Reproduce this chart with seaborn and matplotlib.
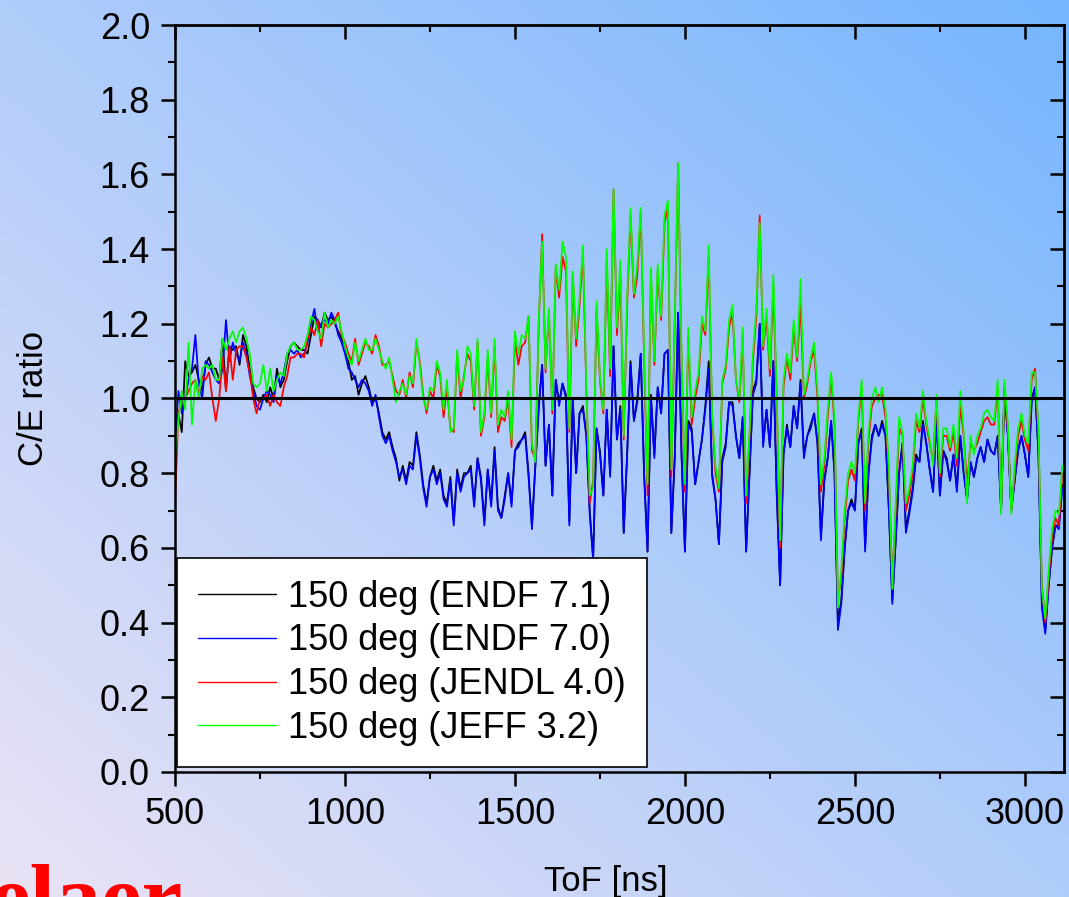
import numpy as np
import pandas as pd
import matplotlib
matplotlib.use("Agg")
import matplotlib.pyplot as plt
import seaborn as sns

# ToF grid (ns), one point every 10 ns
tof = np.arange(500, 3111, 10)

endf71 = [
    0.85, 0.96, 0.91, 1.10, 1.06, 1.07, 1.09, 1.05, 1.02, 1.09,
    1.11, 1.08, 1.08, 1.05, 1.16, 1.02, 1.14, 1.13, 1.14, 1.09,
    1.17, 1.14, 1.08, 1.03, 1.00, 0.99, 1.01, 0.99, 1.03, 1.00,
    1.08, 1.03, 1.05, 1.10, 1.14, 1.15, 1.14, 1.13, 1.13, 1.12,
    1.17, 1.22, 1.21, 1.19, 1.23, 1.21, 1.22, 1.20, 1.18, 1.16,
    1.14, 1.10, 1.05, 1.06, 1.01, 1.04, 1.06, 1.03, 0.99, 1.00,
    0.96, 0.91, 0.89, 0.91, 0.87, 0.84, 0.78, 0.82, 0.78, 0.83,
    0.82, 0.91, 0.85, 0.77, 0.72, 0.79, 0.82, 0.78, 0.81, 0.74,
    0.72, 0.79, 0.67, 0.81, 0.76, 0.80, 0.80, 0.82, 0.72, 0.84,
    0.79, 0.67, 0.81, 0.72, 0.87, 0.71, 0.68, 0.74, 0.80, 0.72,
    0.86, 0.88, 0.89, 0.91, 0.80, 0.66, 0.82, 0.98, 1.09, 0.82,
    0.93, 0.74, 1.05, 0.99, 1.04, 1.01, 0.67, 1.00, 0.80, 0.96,
    0.98, 0.90, 0.70, 0.57, 0.92, 0.86, 0.74, 0.97, 0.80, 1.14,
    0.89, 0.98, 0.64, 0.85, 1.10, 0.94, 1.00, 1.12, 0.80, 0.59,
    1.01, 0.85, 1.03, 0.96, 1.12, 1.13, 0.64, 0.84, 1.23, 0.85,
    0.59, 0.94, 0.92, 0.77, 0.83, 0.89, 0.98, 1.10, 0.80, 0.73,
    0.61, 0.84, 0.88, 0.99, 0.99, 0.90, 0.84, 0.95, 0.59, 0.80,
    1.02, 1.05, 1.20, 0.88, 0.97, 0.87, 1.10, 0.75, 0.50, 0.85,
    0.93, 0.87, 0.98, 0.92, 1.05, 0.85, 0.90, 0.93, 0.96, 0.88,
    0.63, 0.78, 0.84, 0.94, 0.80, 0.40, 0.46, 0.60, 0.70, 0.73,
    0.70, 0.88, 0.92, 0.60, 0.80, 0.90, 0.93, 0.90, 0.94, 0.90,
    0.70, 0.46, 0.62, 0.80, 0.88, 0.65, 0.70, 0.76, 0.85, 0.83,
    0.94, 0.88, 0.81, 0.75, 0.96, 0.74, 0.86, 0.84, 0.78, 0.85,
    0.76, 0.90, 0.80, 0.73, 0.83, 0.79, 0.84, 0.87, 0.83, 0.89,
    0.86, 0.85, 0.90, 0.70, 1.03, 0.90, 0.70, 0.78, 0.86, 0.90,
    0.85, 0.79, 1.00, 1.03, 0.85, 0.45, 0.38, 0.50, 0.60, 0.66,
    0.66, 0.77,
]

endf70 = [
    0.87, 1.02, 0.96, 1.00, 1.05, 1.08, 1.17, 1.04, 1.00, 1.10,
    1.09, 1.07, 1.05, 1.04, 1.08, 1.21, 1.10, 1.15, 1.12, 1.10,
    1.15, 1.12, 1.06, 1.02, 0.98, 0.97, 1.00, 1.02, 1.01, 0.99,
    1.06, 1.04, 1.07, 1.12, 1.13, 1.12, 1.13, 1.11, 1.12, 1.15,
    1.20, 1.24, 1.18, 1.20, 1.21, 1.20, 1.23, 1.21, 1.17, 1.15,
    1.12, 1.08, 1.07, 1.05, 1.03, 1.05, 1.04, 1.02, 0.98, 1.01,
    0.95, 0.90, 0.88, 0.90, 0.86, 0.83, 0.79, 0.81, 0.77, 0.82,
    0.81, 0.90, 0.84, 0.76, 0.71, 0.79, 0.81, 0.77, 0.80, 0.73,
    0.71, 0.78, 0.66, 0.80, 0.75, 0.79, 0.80, 0.81, 0.71, 0.84,
    0.78, 0.66, 0.81, 0.71, 0.86, 0.70, 0.68, 0.73, 0.80, 0.71,
    0.86, 0.87, 0.89, 0.90, 0.79, 0.65, 0.82, 0.97, 1.09, 0.82,
    0.93, 0.74, 1.05, 0.98, 1.04, 1.00, 0.66, 1.00, 0.80, 0.96,
    0.97, 0.90, 0.69, 0.57, 0.92, 0.85, 0.74, 0.97, 0.79, 1.14,
    0.89, 0.97, 0.64, 0.85, 1.09, 0.94, 0.99, 1.12, 0.79, 0.59,
    1.00, 0.84, 1.03, 0.96, 1.12, 1.13, 0.64, 0.84, 1.23, 0.85,
    0.59, 0.93, 0.91, 0.77, 0.83, 0.89, 0.97, 1.08, 0.79, 0.73,
    0.61, 0.83, 0.87, 0.99, 0.98, 0.90, 0.84, 0.95, 0.59, 0.80,
    1.01, 1.04, 1.20, 0.87, 0.97, 0.87, 1.10, 0.74, 0.50, 0.85,
    0.92, 0.87, 0.98, 0.92, 1.04, 0.84, 0.90, 0.92, 0.96, 0.88,
    0.62, 0.78, 0.84, 0.94, 0.80, 0.38, 0.45, 0.60, 0.70, 0.72,
    0.70, 0.88, 0.91, 0.59, 0.80, 0.89, 0.93, 0.90, 0.93, 0.90,
    0.70, 0.45, 0.62, 0.80, 0.88, 0.64, 0.69, 0.75, 0.84, 0.83,
    0.93, 0.88, 0.81, 0.75, 0.95, 0.74, 0.86, 0.83, 0.78, 0.85,
    0.75, 0.90, 0.80, 0.73, 0.83, 0.79, 0.84, 0.87, 0.83, 0.89,
    0.86, 0.85, 0.90, 0.70, 1.02, 0.90, 0.70, 0.78, 0.86, 0.90,
    0.85, 0.79, 0.99, 1.03, 0.85, 0.44, 0.37, 0.50, 0.60, 0.66,
    0.65, 0.76,
]

jendl40 = [
    0.72, 0.96, 1.00, 1.00, 1.02, 1.04, 1.05, 1.01, 1.06, 1.05,
    1.07, 1.00, 0.94, 1.00, 1.11, 1.02, 1.14, 1.05, 1.13, 1.14,
    1.14, 1.11, 1.07, 1.00, 0.96, 1.00, 1.00, 1.01, 0.98, 1.01,
    0.99, 0.98, 1.03, 1.06, 1.11, 1.11, 1.12, 1.12, 1.11, 1.16,
    1.19, 1.17, 1.21, 1.14, 1.20, 1.19, 1.20, 1.21, 1.23, 1.17,
    1.15, 1.12, 1.10, 1.16, 1.09, 1.12, 1.15, 1.14, 1.12, 1.17,
    1.14, 1.09, 1.09, 1.10, 1.06, 1.02, 1.01, 1.05, 1.00, 1.07,
    1.03, 1.15, 1.10, 1.01, 0.96, 1.02, 1.00, 1.09, 1.06, 0.95,
    1.03, 0.92, 0.91, 1.12, 1.00, 1.06, 1.12, 1.10, 0.97, 1.15,
    0.90, 0.95, 1.11, 0.95, 1.14, 0.91, 0.95, 0.94, 1.00, 0.87,
    1.16, 1.09, 1.14, 1.15, 1.22, 0.86, 0.84, 1.20, 1.44, 1.07,
    1.23, 0.96, 1.35, 1.27, 1.38, 1.34, 0.91, 1.33, 1.14, 1.25,
    1.39, 1.02, 0.72, 0.78, 1.24, 1.05, 0.96, 1.37, 1.06, 1.56,
    1.17, 1.33, 0.89, 1.25, 1.49, 1.27, 1.33, 1.50, 1.10, 0.74,
    1.33, 1.09, 1.34, 1.21, 1.47, 1.51, 0.79, 1.20, 1.63, 1.10,
    0.75, 1.17, 0.93, 1.00, 1.05, 1.20, 1.17, 1.38, 0.95, 0.80,
    0.75, 1.04, 1.08, 1.19, 1.23, 1.05, 0.99, 1.17, 0.72, 0.90,
    1.10, 1.22, 1.49, 1.13, 1.22, 1.06, 1.30, 1.00, 0.60, 1.03,
    1.11, 1.05, 1.19, 1.10, 1.25, 1.00, 1.04, 1.10, 1.13, 1.00,
    0.75, 0.82, 0.95, 1.06, 0.93, 0.46, 0.52, 0.68, 0.78, 0.81,
    0.78, 0.94, 1.03, 0.70, 0.89, 0.98, 1.00, 1.01, 1.01, 0.95,
    0.80, 0.51, 0.70, 0.92, 0.90, 0.70, 0.74, 0.80, 0.94, 0.91,
    1.00, 0.93, 0.88, 0.83, 1.00, 0.79, 0.90, 0.90, 0.86, 0.91,
    0.82, 0.98, 0.90, 0.77, 0.88, 0.86, 0.88, 0.91, 0.94, 0.95,
    0.93, 0.93, 1.03, 0.70, 1.03, 0.92, 0.70, 0.80, 0.90, 0.94,
    0.89, 0.86, 1.05, 1.08, 0.90, 0.50, 0.40, 0.52, 0.63, 0.68,
    0.66, 0.80,
]

jeff32 = [
    0.84, 0.94, 1.02, 0.97, 1.15, 0.93, 1.05, 1.00, 1.08, 1.09,
    1.08, 1.09, 1.05, 1.05, 1.16, 1.13, 1.16, 1.18, 1.15, 1.18,
    1.19, 1.16, 1.12, 1.04, 1.03, 1.04, 1.09, 1.02, 1.08, 1.02,
    1.05, 1.07, 1.06, 1.12, 1.14, 1.15, 1.13, 1.13, 1.14, 1.17,
    1.22, 1.21, 1.18, 1.16, 1.23, 1.19, 1.21, 1.20, 1.22, 1.18,
    1.14, 1.11, 1.09, 1.15, 1.10, 1.13, 1.16, 1.13, 1.13, 1.16,
    1.13, 1.10, 1.08, 1.11, 1.05, 0.99, 1.02, 1.04, 1.01, 1.06,
    1.04, 1.16, 1.09, 1.00, 0.97, 1.03, 1.02, 1.10, 1.07, 0.97,
    1.05, 0.91, 0.92, 1.13, 1.02, 1.05, 1.14, 1.12, 0.98, 1.16,
    0.91, 0.96, 1.13, 0.96, 1.16, 0.93, 0.97, 0.95, 1.02, 0.89,
    1.18, 1.12, 1.17, 1.16, 1.22, 0.88, 0.83, 1.21, 1.42, 1.08,
    1.24, 0.97, 1.36, 1.29, 1.42, 1.38, 0.92, 1.34, 1.16, 1.27,
    1.41, 1.03, 0.74, 0.76, 1.26, 1.06, 0.97, 1.40, 1.08, 1.56,
    1.19, 1.37, 0.90, 1.27, 1.51, 1.28, 1.36, 1.51, 1.12, 0.77,
    1.35, 1.10, 1.36, 1.22, 1.49, 1.53, 0.81, 1.22, 1.63, 1.12,
    0.77, 1.19, 0.95, 1.02, 1.07, 1.22, 1.18, 1.41, 0.96, 0.82,
    0.76, 1.05, 1.09, 1.21, 1.25, 1.05, 1.00, 1.19, 0.74, 0.91,
    1.12, 1.24, 1.47, 1.14, 1.24, 1.08, 1.33, 1.02, 0.62, 1.05,
    1.12, 1.07, 1.21, 1.11, 1.32, 1.01, 1.05, 1.11, 1.15, 1.02,
    0.77, 0.84, 0.97, 1.07, 0.95, 0.44, 0.54, 0.70, 0.80, 0.83,
    0.80, 0.95, 1.05, 0.72, 0.91, 1.00, 1.03, 0.99, 1.03, 0.97,
    0.82, 0.49, 0.72, 0.95, 0.91, 0.72, 0.76, 0.82, 0.96, 0.92,
    1.02, 0.94, 0.89, 0.82, 1.01, 0.80, 0.92, 0.92, 0.87, 0.93,
    0.84, 1.02, 0.91, 0.72, 0.90, 0.85, 0.90, 0.92, 0.96, 0.97,
    0.95, 0.94, 1.05, 0.69, 1.05, 0.93, 0.69, 0.82, 0.92, 0.96,
    0.90, 0.88, 1.07, 1.07, 0.92, 0.49, 0.41, 0.54, 0.65, 0.70,
    0.69, 0.82,
]

labels = ["150 deg (ENDF 7.1)", "150 deg (ENDF 7.0)",
          "150 deg (JENDL 4.0)", "150 deg (JEFF 3.2)"]
colors = ["#000000", "#0000ff", "#ff0000", "#00ff00"]

df = pd.concat([
    pd.DataFrame({"tof": tof, "ratio": vals, "series": lab})
    for vals, lab in zip([endf71, endf70, jendl40, jeff32], labels)
])

sns.set_style("ticks")
plt.rcParams["font.family"] = ["Liberation Sans", "DejaVu Sans"]
plt.rcParams["text.color"] = "black"
plt.rcParams["axes.labelcolor"] = "black"

fig = plt.figure(figsize=(10.69, 8.97), dpi=100)

# diagonal background gradient (lavender bottom-left -> blue top-right)
bg = fig.add_axes([0, 0, 1, 1], zorder=-10)
gx, gy = np.meshgrid(np.linspace(0, 1, 300), np.linspace(0, 1, 300))
t = np.clip((gx + (1 - gy)) / 2, 0, 1)[..., None]
c0 = np.array([0.92, 0.89, 0.96])
c1 = np.array([0.46, 0.71, 1.00])
bg.imshow(c0 * (1 - t) + c1 * t, aspect="auto", extent=[0, 1, 0, 1])
bg.axis("off")

ax = fig.add_axes([0.1637, 0.1394, 0.8316, 0.8327])
ax.set_facecolor("none")

sns.lineplot(data=df, x="tof", y="ratio", hue="series", palette=dict(zip(labels, colors)),
             hue_order=labels, estimator=None, sort=False, linewidth=1.25, ax=ax)

ax.axhline(1.0, color="black", linewidth=2.2, zorder=5)

ax.set_xlim(500, 3115)
ax.set_ylim(0, 2.0)
ax.set_xticks([500, 1000, 1500, 2000, 2500, 3000])
ax.set_xticks(np.arange(750, 3111, 500), minor=True)
ax.set_yticks(np.arange(0, 2.01, 0.2))
ax.set_yticks(np.arange(0.1, 2.0, 0.2), minor=True)
ax.set_yticklabels([f"{v:.1f}" for v in np.arange(0, 2.01, 0.2)])

for sp in ax.spines.values():
    sp.set_linewidth(1.8)
    sp.set_color("black")
    sp.set_visible(True)
ax.tick_params(which="major", direction="out", length=10, width=1.8, labelsize=26, pad=8, colors="black")
ax.tick_params(which="minor", direction="out", length=5, width=1.5, colors="black")
ax.tick_params(axis="y", which="major", pad=8)

# inward ticks on top and right sides
sec_y = ax.secondary_yaxis("right")
sec_y.set_yticks(np.arange(0, 2.01, 0.2))
sec_y.set_yticks(np.arange(0.1, 2.0, 0.2), minor=True)
sec_y.tick_params(which="major", direction="in", length=10, width=1.8, labelright=False, colors="black")
sec_y.tick_params(which="minor", direction="in", length=5, width=1.5, colors="black")
sec_y.spines["right"].set_linewidth(1.8)
sec_x = ax.secondary_xaxis("top")
sec_x.set_xticks([500, 1000, 1500, 2000, 2500, 3000])
sec_x.set_xticks(np.arange(750, 3111, 500), minor=True)
sec_x.tick_params(which="major", direction="in", length=10, width=1.8, labeltop=False, colors="black")
sec_x.tick_params(which="minor", direction="in", length=5, width=1.5, colors="black")
sec_x.spines["top"].set_linewidth(1.8)

ax.set_xlabel("ToF [ns]", fontsize=25, color="black")
ax.set_ylabel("C/E ratio", fontsize=25, color="black")
ax.xaxis.set_label_coords(0.485, -0.124)
ax.yaxis.set_label_coords(-0.141, 0.5)

leg = ax.legend(loc="lower left", bbox_to_anchor=(0.002, 0.006), borderaxespad=0,
                fontsize=26, frameon=True, fancybox=False, framealpha=1,
                edgecolor="black", handlelength=2.15, handletextpad=0.33,
                labelspacing=0.24, borderpad=0.6, title=None)
leg.get_frame().set_linewidth(1.2)
for h in leg.get_lines():
    h.set_linewidth(1.0)
for txt in leg.get_texts():
    txt.set_color("black")

# partially visible red logo text at the lower-left corner
fig.text(-0.0094, -0.0335, "elaer", color="#ff0000", fontsize=66, fontweight="bold",
         family=["Liberation Serif", "DejaVu Serif"], ha="left", va="baseline")

fig.savefig("out.png", dpi=100)
